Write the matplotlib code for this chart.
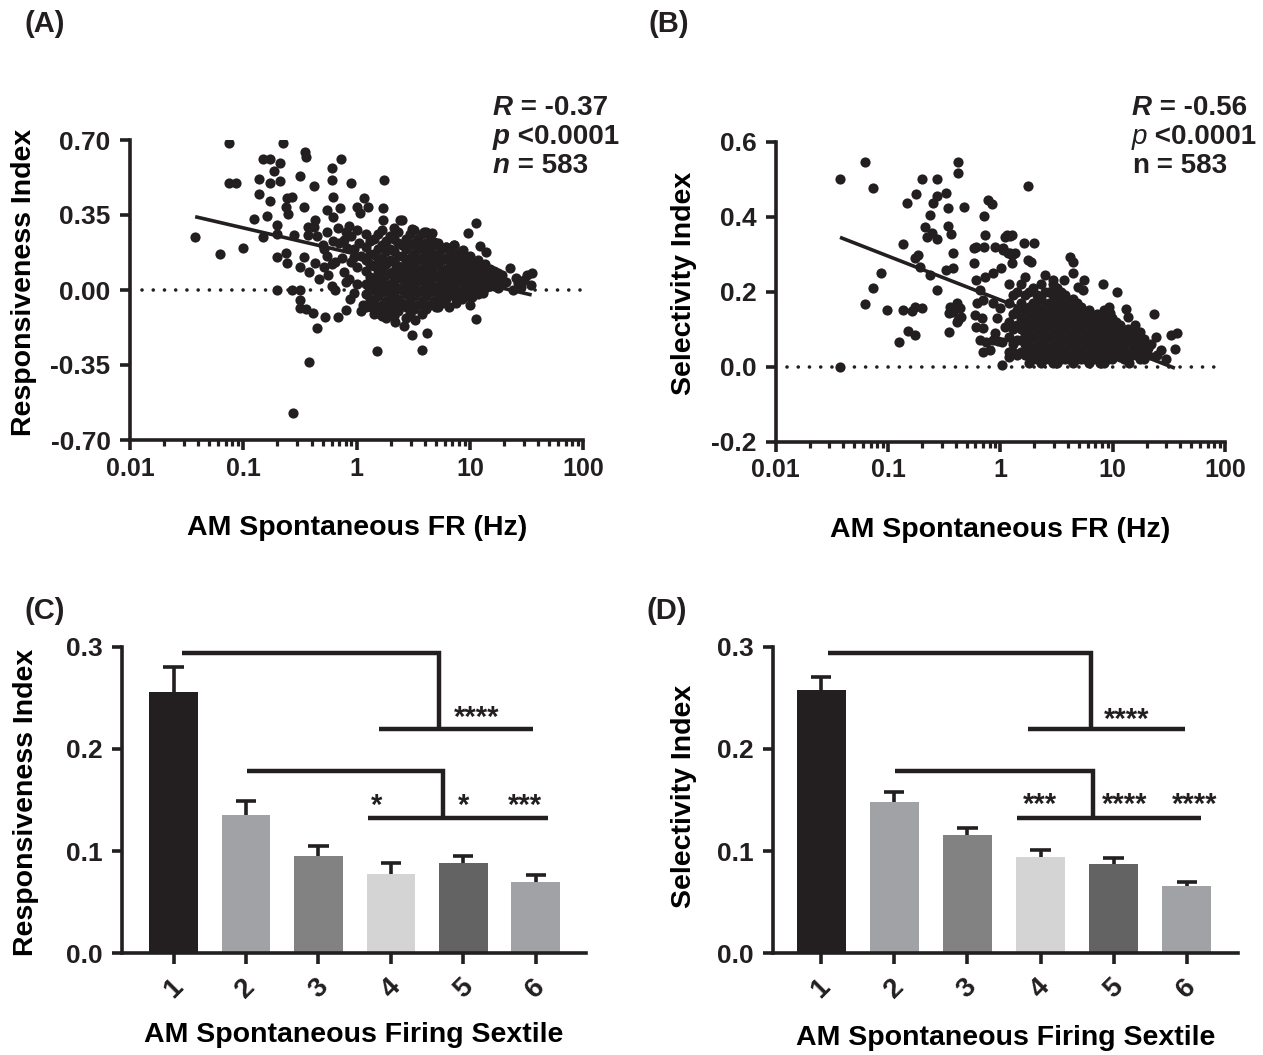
import matplotlib
matplotlib.use("Agg")
import matplotlib.pyplot as plt
from matplotlib.text import Annotation
from matplotlib.ticker import FixedLocator, LogLocator, NullFormatter

plt.rcParams['font.family'] = ['Liberation Sans', 'DejaVu Sans']
plt.rcParams['font.weight'] = 'bold'
plt.rcParams['axes.labelweight'] = 'bold'

INK = '#231f20'

# ---------------- Panel A: responsiveness index vs spontaneous rate (Hz, RI) ----------------
a_sparse = [
    (0.0376, 0.246), (0.0626, 0.167), (0.0743, 0.685), (0.0743, 0.498), (0.0866, 0.498),
    (0.0993, 0.198), (0.124, 0.331), (0.137, 0.518), (0.137, 0.448), (0.148, 0.611),
    (0.173, 0.611), (0.161, 0.347), (0.148, 0.249), (0.173, 0.498), (0.173, 0.415),
    (0.185, 0.555), (0.198, 0.303), (0.212, 0.591), (0.225, 0.685), (0.212, 0.510),
    (0.198, 0.156), (0.198, 0.000), (0.236, 0.171), (0.245, 0.127), (0.236, 0.386),
    (0.249, 0.355), (0.244, 0.428), (0.270, 0.435), (0.270, 0.000), (0.316, 0.000),
    (0.319, 0.532), (0.316, 0.109), (0.316, -0.047), (0.316, -0.086), (0.275, -0.576),
    (0.278, 0.257), (0.198, 0.260),
    (0.35, 0.644), (0.36, 0.620), (0.73, 0.611), (0.61, 0.569), (0.42, 0.485),
    (0.61, 0.513), (0.89, 0.500), (1.73, 0.513), (0.345, 0.387), (0.55, 0.373),
    (0.62, 0.434), (0.72, 0.383), (0.62, 0.341), (1.15, 0.429), (1.01, 0.387),
    (1.25, 0.387), (1.08, 0.359), (1.70, 0.383), (1.70, 0.327), (2.40, 0.327),
    (0.37, 0.294), (0.43, 0.327), (0.42, 0.294), (0.37, 0.257), (0.55, 0.271),
    (0.68, 0.289), (0.34, 0.154), (0.38, 0.084), (0.43, 0.126), (0.51, 0.107),
    (0.56, 0.070), (0.65, 0.131), (0.65, 0.000), (0.77, 0.233), (0.83, 0.196),
    (0.77, 0.084), (0.80, 0.037), (0.94, 0.154), (1.01, 0.107), (0.94, -0.014),
    (0.36, -0.089), (0.41, -0.107), (0.69, -0.126), (1.13, -0.070), (1.29, 0.014),
    (1.33, -0.079), (0.38, -0.335), (0.45, -0.179), (0.53, -0.124), (0.80, -0.093),
    (1.50, -0.283),
]
a_mid = [
    (0.45, 0.25), (0.50, 0.21), (0.55, 0.16), (0.60, 0.12), (0.70, 0.22), (0.75, 0.15),
    (0.85, 0.05), (0.90, 0.25), (0.95, 0.19), (1.00, 0.03), (1.05, 0.22), (0.88, -0.04),
    (1.10, -0.10), (1.00, 0.28), (0.85, 0.30), (0.60, 0.02), (0.47, 0.05), (0.52, 0.19),
    (0.62, 0.23), (0.90, 0.13), (1.10, 0.16), (0.80, 0.27),
]
a_fringe = [
    (11.4, 0.311), (9.6, 0.265), (12.3, 0.207), (13.8, 0.179), (22.4, 0.101), (32.0, 0.070),
    (35.6, 0.081), (34.8, 0.023), (25.6, 0.056), (26.7, 0.033), (20.8, 0.037), (18.8, 0.023),
    (16.6, 0.086), (15.2, 0.056), (14.3, 0.023), (12.9, -0.014), (10.0, -0.070), (11.4, -0.135),
    (9.2, -0.023), (10.5, -0.031), (5.06, -0.081), (3.3, -0.140), (3.1, -0.210), (4.2, -0.199),
    (3.8, -0.280), (2.5, 0.327), (3.1, 0.283), (3.9, 0.272), (4.6, 0.265), (4.8, 0.225),
    (6.1, 0.202), (7.2, 0.210), (8.6, 0.187), (1.6, -0.110), (1.8, -0.130), (2.2, -0.150),
    (2.6, -0.170), (6.5, -0.080), (7.5, -0.060), (24.0, 0.000), (28.0, 0.015), (30.0, 0.045),
]
a_core = {
    1.20: [0.26, 0.20, 0.14, 0.09, 0.03, -0.02, -0.08],
    1.30: [0.23, 0.17, 0.12, 0.06, 0.01, -0.04],
    1.41: [0.24, 0.17, 0.11, 0.05, 0.00, -0.06, -0.11],
    1.53: [0.26, 0.19, 0.13, 0.08, 0.02, -0.03, -0.09],
    1.67: [0.28, 0.21, 0.15, 0.10, 0.04, -0.01, -0.07, -0.12],
    1.81: [0.23, 0.18, 0.12, 0.07, 0.01, -0.05, -0.10],
    1.96: [0.25, 0.19, 0.14, 0.08, 0.03, -0.03, -0.09],
    2.13: [0.29, 0.24, 0.18, 0.13, 0.09, 0.04, -0.01, -0.06, -0.12],
    2.31: [0.27, 0.22, 0.16, 0.11, 0.06, 0.01, -0.04, -0.10],
    2.50: [0.21, 0.16, 0.10, 0.05, 0.00, -0.06],
    2.71: [0.24, 0.19, 0.13, 0.08, 0.03, -0.02, -0.08, -0.13],
    2.94: [0.26, 0.21, 0.15, 0.10, 0.05, 0.00, -0.05, -0.11],
    3.19: [0.28, 0.22, 0.17, 0.12, 0.07, 0.02, -0.03, -0.09],
    3.46: [0.24, 0.19, 0.14, 0.09, 0.04, -0.01, -0.07],
    3.75: [0.26, 0.20, 0.15, 0.10, 0.05, 0.00, -0.05, -0.11],
    4.07: [0.27, 0.22, 0.17, 0.12, 0.07, 0.02, -0.03, -0.09],
    4.41: [0.25, 0.19, 0.14, 0.09, 0.04, -0.01, -0.07],
    4.78: [0.21, 0.16, 0.11, 0.06, 0.01, -0.05],
    5.19: [0.22, 0.17, 0.12, 0.07, 0.02, -0.03, -0.08],
    5.63: [0.19, 0.14, 0.09, 0.04, -0.01, -0.06],
    6.10: [0.20, 0.15, 0.10, 0.05, 0.01, -0.04],
    6.62: [0.18, 0.13, 0.08, 0.03, -0.02],
    7.18: [0.21, 0.16, 0.11, 0.06, 0.02, -0.03],
    7.78: [0.17, 0.12, 0.08, 0.04, -0.01],
    8.44: [0.18, 0.13, 0.09, 0.04, 0.00, -0.04],
    9.15: [0.15, 0.10, 0.06, 0.01, -0.03],
    9.93: [0.16, 0.12, 0.07, 0.03, -0.02],
    10.8: [0.13, 0.09, 0.05, 0.00],
    11.7: [0.14, 0.10, 0.06, 0.02, -0.02],
    12.7: [0.11, 0.07, 0.03, -0.01],
    13.7: [0.12, 0.08, 0.05, 0.01],
    14.9: [0.10, 0.06, 0.02],
    16.2: [0.09, 0.06, 0.02],
    17.5: [0.08, 0.04, 0.01],
    19.0: [0.07, 0.03],
}
a_fit_fr = [0.0376, 35.0]
a_fit_ri = [0.342, -0.023]

# ---------------- Panel B: selectivity index vs spontaneous rate (Hz, SI) ----------------
b_sparse = [
    (0.0373, 0.500), (0.0622, 0.547), (0.0738, 0.476), (0.0373, 0.000), (0.0863, 0.251),
    (0.0738, 0.209), (0.0622, 0.167), (0.0984, 0.151), (0.136, 0.151), (0.162, 0.149),
    (0.174, 0.158), (0.199, 0.156), (0.125, 0.067), (0.149, 0.095), (0.174, 0.085),
    (0.136, 0.327), (0.174, 0.289), (0.185, 0.298), (0.148, 0.436), (0.176, 0.460),
    (0.199, 0.500), (0.274, 0.500), (0.249, 0.436), (0.274, 0.455), (0.330, 0.462),
    (0.340, 0.422), (0.470, 0.427), (0.236, 0.404), (0.214, 0.372), (0.220, 0.347),
    (0.247, 0.356), (0.270, 0.341), (0.340, 0.375), (0.360, 0.354), (0.193, 0.267),
    (0.236, 0.245), (0.270, 0.205), (0.330, 0.258), (0.376, 0.262), (0.376, 0.302),
    (0.420, 0.545), (0.420, 0.516), (1.77, 0.483), (0.357, 0.160), (0.410, 0.169),
    (0.440, 0.156), (0.380, 0.147), (0.350, 0.142), (0.420, 0.125), (0.450, 0.133),
    (0.350, 0.093), (0.410, 0.120), (0.58, 0.316), (0.61, 0.320), (0.71, 0.320),
    (0.73, 0.351), (0.71, 0.402), (0.77, 0.445), (0.84, 0.434), (0.58, 0.276),
    (0.61, 0.231), (0.66, 0.205), (0.73, 0.240), (0.86, 0.249), (1.02, 0.262),
    (0.89, 0.320), (1.06, 0.311), (1.10, 0.345), (1.23, 0.349), (1.17, 0.302),
    (1.28, 0.298), (1.26, 0.277), (1.62, 0.331), (2.00, 0.331), (0.62, 0.169),
    (0.70, 0.178), (0.60, 0.138), (0.68, 0.129), (0.61, 0.107), (0.70, 0.102),
    (0.66, 0.071), (0.75, 0.067), (0.86, 0.071), (0.81, 0.045), (0.70, 0.040),
    (0.86, 0.169), (0.99, 0.156), (0.93, 0.129), (1.10, 0.107), (0.95, 0.068),
    (1.04, 0.066), (0.90, 0.090),
]
b_fringe = [
    (1.14, 0.351), (1.26, 0.351), (1.06, 0.316), (1.22, 0.303), (1.35, 0.303), (1.77, 0.284),
    (1.89, 0.279), (4.17, 0.292), (4.40, 0.279), (2.51, 0.245), (2.95, 0.231), (3.70, 0.231),
    (4.40, 0.249), (5.60, 0.231), (4.90, 0.213), (5.40, 0.205), (8.2, 0.221), (11.0, 0.200),
    (13.1, 0.153), (23.2, 0.141), (24.3, 0.080), (33.0, 0.084), (37.0, 0.089), (35.8, 0.046),
    (27.1, 0.044), (14.1, 0.009), (15.8, 0.111), (17.6, 0.093), (20.0, 0.053), (16.7, 0.071),
    (13.8, 0.133), (15.2, 0.080), (9.2, 0.160), (9.4, 0.142), (11.6, 0.098), (10.4, 0.071),
    (8.9, 0.036), (11.6, 0.027), (22.0, 0.060), (25.0, 0.030), (19.0, 0.075), (30.0, 0.020),
    (1.04, 0.005), (1.20, 0.026), (1.29, 0.040),
]
b_core = {
    1.20: [0.22, 0.17, 0.12, 0.08, 0.04],
    1.30: [0.19, 0.14, 0.10, 0.06],
    1.41: [0.20, 0.15, 0.11, 0.07, 0.03],
    1.53: [0.22, 0.17, 0.13, 0.10, 0.07, 0.04],
    1.67: [0.24, 0.19, 0.15, 0.12, 0.09, 0.06, 0.03],
    1.81: [0.20, 0.16, 0.13, 0.10, 0.07, 0.04, 0.01],
    1.96: [0.21, 0.17, 0.14, 0.11, 0.08, 0.05, 0.02],
    2.13: [0.19, 0.16, 0.13, 0.10, 0.07, 0.04, 0.02],
    2.31: [0.22, 0.18, 0.15, 0.12, 0.09, 0.06, 0.03, 0.01],
    2.50: [0.20, 0.16, 0.13, 0.10, 0.07, 0.04, 0.02],
    2.71: [0.20, 0.17, 0.14, 0.11, 0.08, 0.05, 0.02],
    2.94: [0.22, 0.19, 0.16, 0.13, 0.10, 0.07, 0.04, 0.01],
    3.19: [0.21, 0.18, 0.15, 0.12, 0.09, 0.06, 0.03, 0.01],
    3.46: [0.20, 0.17, 0.14, 0.11, 0.08, 0.05, 0.02],
    3.75: [0.19, 0.16, 0.13, 0.10, 0.07, 0.04, 0.02],
    4.07: [0.17, 0.14, 0.11, 0.08, 0.05, 0.02],
    4.41: [0.18, 0.15, 0.12, 0.09, 0.06, 0.03, 0.01],
    4.78: [0.17, 0.14, 0.11, 0.08, 0.05, 0.02],
    5.19: [0.16, 0.13, 0.10, 0.07, 0.04, 0.02],
    5.63: [0.14, 0.11, 0.08, 0.05, 0.02],
    6.10: [0.15, 0.12, 0.09, 0.06, 0.03, 0.01],
    6.62: [0.13, 0.10, 0.07, 0.04, 0.02],
    7.18: [0.14, 0.11, 0.08, 0.05, 0.02],
    7.78: [0.13, 0.10, 0.07, 0.04, 0.01],
    8.44: [0.15, 0.12, 0.09, 0.06, 0.03, 0.01],
    9.15: [0.14, 0.11, 0.08, 0.05, 0.02],
    9.93: [0.13, 0.10, 0.07, 0.04, 0.02],
    10.8: [0.12, 0.09, 0.06, 0.03],
    11.7: [0.11, 0.08, 0.05, 0.03],
    12.7: [0.09, 0.06, 0.04, 0.02],
    13.7: [0.10, 0.07, 0.04, 0.02],
    14.9: [0.09, 0.06, 0.03],
    16.2: [0.08, 0.05, 0.03],
    17.5: [0.07, 0.04, 0.02],
    19.0: [0.06, 0.04, 0.02],
    20.6: [0.05, 0.03],
}
b_fit_fr = [0.0373, 35.8]
b_fit_si = [0.345, -0.004]

# ---------------- Panels C, D: sextile means with SEM ----------------
sextiles = ['1', '2', '3', '4', '5', '6']
resp_mean = [0.256, 0.135, 0.0955, 0.0776, 0.0884, 0.0698]
resp_sem = [0.024, 0.014, 0.0092, 0.0104, 0.0071, 0.0065]
sel_mean = [0.2576, 0.1477, 0.1161, 0.0939, 0.0874, 0.0659]
sel_sem = [0.0131, 0.0098, 0.0062, 0.0069, 0.0055, 0.0042]
bar_colors = ['#231f20', '#a1a2a6', '#828282', '#d4d4d4', '#636363', '#a1a2a6']

# significance brackets: (start, junction, top y), (low start, low end, low y), star labels
resp_brackets = [
    ((1.11, 4.66, 0.294), (3.83, 5.96, 0.219), [(5.18, 0.230, '****')]),
    ((2.01, 4.72, 0.178), (3.68, 6.17, 0.132), [(3.80, 0.144, '*'), (5.00, 0.144, '*'), (5.85, 0.144, '***')]),
]
sel_brackets = [
    ((1.10, 4.69, 0.294), (3.83, 5.98, 0.219), [(5.18, 0.228, '****')]),
    ((2.01, 4.72, 0.178), (3.68, 6.19, 0.132), [(3.99, 0.145, '***'), (5.15, 0.145, '****'), (6.10, 0.145, '****')]),
]


def expand(sparse, extra, core):
    xs = [p[0] for p in sparse] + [p[0] for p in extra]
    ys = [p[1] for p in sparse] + [p[1] for p in extra]
    for fr, vals in core.items():
        xs += [fr] * len(vals)
        ys += vals
    return xs, ys


W, H = 1263, 1055
fig = plt.figure(figsize=(W / 100, H / 100), dpi=100)


def px_axes(left, top, right, bottom):
    return fig.add_axes([left / W, 1 - bottom / H, (right - left) / W, (bottom - top) / H])


def style(ax):
    for s in ('top', 'right'):
        ax.spines[s].set_visible(False)
    for s in ('left', 'bottom'):
        ax.spines[s].set_linewidth(2.6)
        ax.spines[s].set_color(INK)
        ax.spines[s].set_capstyle('projecting')
    ax.tick_params(which='major', length=7, width=2.6, color=INK, labelcolor=INK)
    ax.tick_params(axis='y', labelsize=19, pad=7)


def scatter_panel(ax, xs, ys, fit_x, fit_y, yticks, ylabels, ylim, ylabel, ylab_pos):
    style(ax)
    ax.set_xscale('log')
    ax.set_xlim(0.01, 100)
    ax.set_ylim(*ylim)
    ax.plot([0.0127, 94], [0, 0], color=INK, lw=2.6, linestyle=(0, (0.01, 3.1)),
            dash_capstyle='round', zorder=1, clip_on=False)
    ax.scatter(xs, ys, s=54, c=INK, linewidths=0, zorder=3)
    ax.plot(fit_x, fit_y, color=INK, lw=2.6, zorder=4, solid_capstyle='butt')
    ax.xaxis.set_major_locator(FixedLocator([0.01, 0.1, 1, 10, 100]))
    ax.set_xticklabels(['0.01', '0.1', '1', '10', '100'])
    ax.xaxis.set_minor_locator(LogLocator(base=10, subs=range(2, 10)))
    ax.xaxis.set_minor_formatter(NullFormatter())
    ax.tick_params(axis='x', which='minor', length=4.5, width=2.3, color=INK)
    ax.tick_params(axis='x', which='major', labelsize=18, pad=5)
    ax.set_yticks(yticks)
    ax.set_yticklabels(ylabels)
    ax.set_xlabel('AM Spontaneous FR (Hz)', fontsize=20.5, va='center')
    ax.xaxis.set_label_coords(0.5, -0.293)
    ax.set_ylabel(ylabel, fontsize=20.5, va='center')
    ax.yaxis.set_label_coords(*ylab_pos)


def bar_panel(ax, means, sems, brackets, xlim, ylabel, ylab_pos, xlab_y):
    style(ax)
    pos = list(range(1, len(means) + 1))
    ax.set_xlim(*xlim)
    ax.set_ylim(0, 0.3)
    ax.bar(pos, means, width=0.67, color=bar_colors, zorder=2)
    tops = [m + e for m, e in zip(means, sems)]
    ax.vlines(pos, means, tops, color=INK, lw=2.6, zorder=3)
    ax.hlines(tops, [p - 0.14 for p in pos], [p + 0.14 for p in pos], color=INK, lw=2.6, zorder=3)
    for (x0, xj, yt), (l0, l1, yl), stars in brackets:
        ax.plot([x0, xj, xj], [yt, yt, yl], color=INK, lw=3.2, solid_joinstyle='miter',
                solid_capstyle='butt', clip_on=False, zorder=4)
        ax.plot([l0, l1], [yl, yl], color=INK, lw=3.2, solid_capstyle='butt',
                clip_on=False, zorder=4)
        for sx, sy, s in stars:
            ax.text(sx, sy, s, ha='center', va='center', fontsize=21, color=INK)
    ax.set_xticks(pos)
    ax.set_xticklabels(sextiles, rotation=45, ha='center', va='top')
    ax.tick_params(axis='x', length=8, labelsize=20, pad=7)
    ax.set_yticks([0, 0.1, 0.2, 0.3])
    ax.set_yticklabels(['0.0', '0.1', '0.2', '0.3'])
    ax.set_xlabel('AM Spontaneous Firing Sextile', fontsize=20.5, va='center')
    ax.xaxis.set_label_coords(0.5, xlab_y)
    ax.set_ylabel(ylabel, fontsize=20.5, va='center')
    ax.yaxis.set_label_coords(*ylab_pos)


axA = px_axes(130, 140, 583.3, 440)
axB = px_axes(775.8, 141.7, 1225, 441.7)
axC = px_axes(122.4, 646.7, 585.7, 953.3)
axD = px_axes(773, 646.7, 1238, 953.3)

ax_x, ax_y = expand(a_sparse, a_mid + a_fringe, a_core)
scatter_panel(axA, ax_x, ax_y, a_fit_fr, a_fit_ri, [-0.70, -0.35, 0, 0.35, 0.70],
              ['-0.70', '-0.35', '0.00', '0.35', '0.70'], (-0.70, 0.70),
              'Responsiveness Index', (-0.233, 0.527))
bx_x, bx_y = expand(b_sparse, b_fringe, b_core)
scatter_panel(axB, bx_x, bx_y, b_fit_fr, b_fit_si, [-0.2, 0, 0.2, 0.4, 0.6],
              ['-0.2', '0.0', '0.2', '0.4', '0.6'], (-0.2, 0.6),
              'Selectivity Index', (-0.204, 0.529))
bar_panel(axC, resp_mean, resp_sem, resp_brackets, (0.294, 6.69),
          'Responsiveness Index', (-0.209, 0.493), -0.266)
bar_panel(axD, sel_mean, sel_sem, sel_brackets, (0.343, 6.70),
          'Selectivity Index', (-0.191, 0.513), -0.277)


def ftext(x, y, s, **kw):
    return fig.text(x / W, 1 - y / H, s, color=INK, **kw)


for lab, x, y in [('(A)', 25, 32), ('(B)', 648, 32), ('(C)', 25, 619), ('(D)', 647, 619)]:
    ftext(x, y, lab, fontsize=21, va='baseline')


def stat_lines(x, lines):
    # leading symbol in its own style, remainder placed right after it
    for y, (head, head_kw, rest) in zip([121, 150, 179], lines):
        t = ftext(x, y, head, fontsize=20, va='bottom', **head_kw)
        fig.add_artist(Annotation(rest, xy=(1, 0), xycoords=t, va='bottom', ha='left',
                                  fontsize=20, color=INK))


bi = dict(style='italic', weight='bold')
stat_lines(493, [('R', bi, ' = -0.37'), ('p', bi, ' <0.0001'), ('n', bi, ' = 583')])
stat_lines(1132, [('R', bi, ' = -0.56'), ('p', dict(style='italic', weight='normal'), ' <0.0001'),
                  ('n', dict(weight='bold'), ' = 583')])

fig.savefig('out.png', dpi=100)
